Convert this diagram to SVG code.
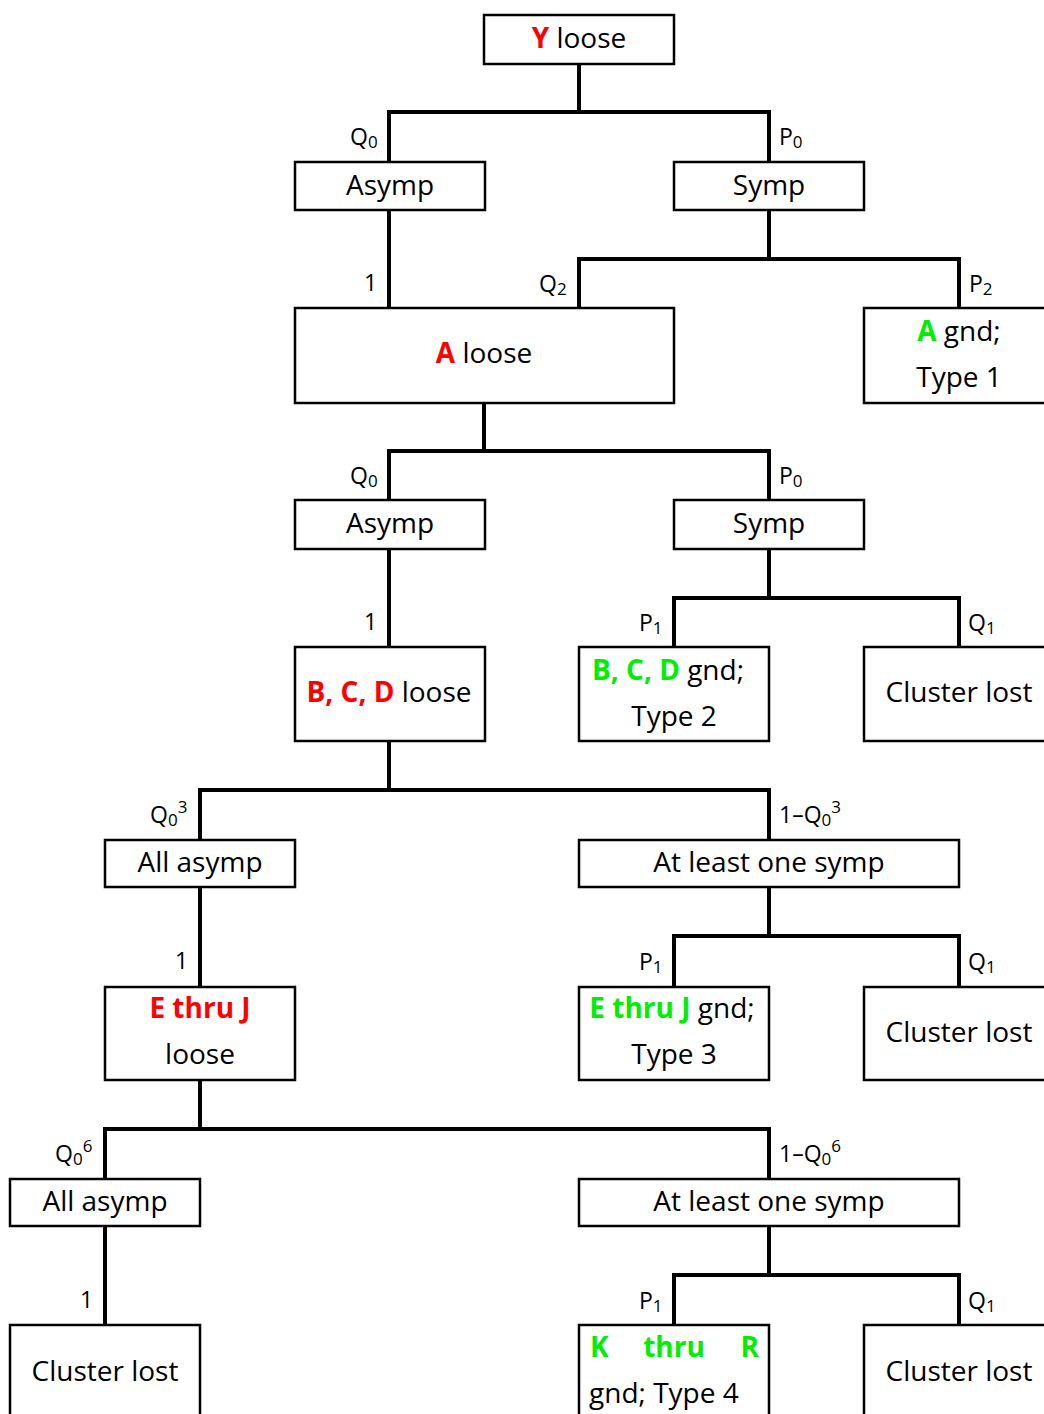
<svg xmlns="http://www.w3.org/2000/svg" width="1044" height="1414" viewBox="0 0 1044 1414">
<style>
.box{fill:#fff;stroke:#000;stroke-width:2.5}
.t{font-family:"Open Sans",Lato,"Liberation Sans",sans-serif;font-size:28px;fill:#000;text-anchor:middle}
.l{font-family:"Open Sans",Lato,"Liberation Sans",sans-serif;font-size:23px;fill:#000}
.r{fill:#ff0000;font-weight:bold}
.g{fill:#00ee00;font-weight:bold}
.c{fill:none;stroke:#000;stroke-width:4;stroke-linecap:square}
.s{font-size:17px}
</style>
<rect width="1044" height="1414" fill="#fff"/>
<g id="connectors">
<path class="c" d="M579,64 V112 M389,162 V112 H769 V162"/>
<path class="c" d="M389,210 V308"/>
<path class="c" d="M769,210 V259 M579,308 V259 H959 V308"/>
<path class="c" d="M484,403 V451 M389,500 V451 H769 V500"/>
<path class="c" d="M389,549 V647"/>
<path class="c" d="M769,549 V598 M674,647 V598 H959 V647"/>
<path class="c" d="M389,741 V790 M200,840 V790 H769 V840"/>
<path class="c" d="M200,887 V987"/>
<path class="c" d="M769,887 V936 M674,987 V936 H959 V987"/>
<path class="c" d="M200,1080 V1129 M105,1179 V1129 H769 V1179"/>
<path class="c" d="M105,1226 V1325"/>
<path class="c" d="M769,1226 V1275 M674,1325 V1275 H959 V1325"/>
</g>
<g id="labels">
<text class="l" x="350" y="145">Q<tspan class="s" dy="3">0</tspan></text>
<text class="l" x="779" y="145">P<tspan class="s" dy="3">0</tspan></text>
<text class="l" x="364" y="291">1</text>
<text class="l" x="539" y="292">Q<tspan class="s" dy="3">2</tspan></text>
<text class="l" x="969" y="292">P<tspan class="s" dy="3">2</tspan></text>
<text class="l" x="350" y="484">Q<tspan class="s" dy="3">0</tspan></text>
<text class="l" x="779" y="484">P<tspan class="s" dy="3">0</tspan></text>
<text class="l" x="364" y="630">1</text>
<text class="l" x="639" y="631">P<tspan class="s" dy="3">1</tspan></text>
<text class="l" x="968" y="631">Q<tspan class="s" dy="3">1</tspan></text>
<text class="l" x="150" y="823">Q<tspan class="s" dy="3">0</tspan><tspan class="s" dy="-13">3</tspan></text>
<text class="l" x="779" y="823">1–Q<tspan class="s" dy="3">0</tspan><tspan class="s" dy="-13">3</tspan></text>
<text class="l" x="175" y="969">1</text>
<text class="l" x="639" y="970">P<tspan class="s" dy="3">1</tspan></text>
<text class="l" x="968" y="970">Q<tspan class="s" dy="3">1</tspan></text>
<text class="l" x="55" y="1162">Q<tspan class="s" dy="3">0</tspan><tspan class="s" dy="-13">6</tspan></text>
<text class="l" x="779" y="1162">1–Q<tspan class="s" dy="3">0</tspan><tspan class="s" dy="-13">6</tspan></text>
<text class="l" x="80" y="1308">1</text>
<text class="l" x="639" y="1309">P<tspan class="s" dy="3">1</tspan></text>
<text class="l" x="968" y="1309">Q<tspan class="s" dy="3">1</tspan></text>
</g>
<g id="y-loose"><rect class="box" x="484" y="15" width="190" height="49"/><text class="t" x="579" y="48"><tspan class="r">Y</tspan> loose</text></g>
<g id="asymp-1"><rect class="box" x="295" y="162" width="190" height="48"/><text class="t" x="390" y="195">Asymp</text></g>
<g id="symp-1"><rect class="box" x="674" y="162" width="190" height="48"/><text class="t" x="769" y="195">Symp</text></g>
<g id="a-loose"><rect class="box" x="295" y="308" width="379" height="95"/><text class="t" x="484" y="363"><tspan class="r">A</tspan> loose</text></g>
<g id="a-gnd"><rect class="box" x="864" y="308" width="200" height="95"/><text class="t" x="959" y="341"><tspan class="g">A</tspan> gnd;</text><text class="t" x="959" y="387">Type 1</text></g>
<g id="asymp-2"><rect class="box" x="295" y="500" width="190" height="49"/><text class="t" x="390" y="533">Asymp</text></g>
<g id="symp-2"><rect class="box" x="674" y="500" width="190" height="49"/><text class="t" x="769" y="533">Symp</text></g>
<g id="bcd-loose"><rect class="box" x="295" y="647" width="190" height="94"/><text class="t" x="389" y="702"><tspan class="r">B, C, D</tspan> loose</text></g>
<g id="bcd-gnd"><rect class="box" x="579" y="647" width="190" height="94"/><text class="t" x="668" y="680"><tspan class="g">B, C, D</tspan> gnd;</text><text class="t" x="674" y="726">Type 2</text></g>
<g id="lost-1"><rect class="box" x="864" y="647" width="200" height="94"/><text class="t" x="959" y="702">Cluster lost</text></g>
<g id="all-asymp-1"><rect class="box" x="105" y="840" width="190" height="47"/><text class="t" x="200" y="872">All asymp</text></g>
<g id="one-symp-1"><rect class="box" x="579" y="840" width="380" height="47"/><text class="t" x="769" y="872">At least one symp</text></g>
<g id="ej-loose"><rect class="box" x="105" y="987" width="190" height="93"/><text class="t" x="200" y="1018"><tspan class="r">E thru J</tspan></text><text class="t" x="200" y="1064">loose</text></g>
<g id="ej-gnd"><rect class="box" x="579" y="987" width="190" height="93"/><text class="t" x="672" y="1018"><tspan class="g">E thru J</tspan> gnd;</text><text class="t" x="674" y="1064">Type 3</text></g>
<g id="lost-2"><rect class="box" x="864" y="987" width="200" height="93"/><text class="t" x="959" y="1042">Cluster lost</text></g>
<g id="all-asymp-2"><rect class="box" x="10" y="1179" width="190" height="47"/><text class="t" x="105" y="1211">All asymp</text></g>
<g id="one-symp-2"><rect class="box" x="579" y="1179" width="380" height="47"/><text class="t" x="769" y="1211">At least one symp</text></g>
<g id="lost-3"><rect class="box" x="10" y="1325" width="190" height="120"/><text class="t" x="105" y="1381">Cluster lost</text></g>
<g id="kr-gnd"><rect class="box" x="579" y="1325" width="190" height="120"/><text class="t" x="590" y="1357" style="text-anchor:start"><tspan class="g">K</tspan></text><text class="t" x="674" y="1357"><tspan class="g">thru</tspan></text><text class="t" x="759" y="1357" style="text-anchor:end"><tspan class="g">R</tspan></text><text class="t" x="589" y="1403" style="text-anchor:start">gnd; Type 4</text></g>
<g id="lost-4"><rect class="box" x="864" y="1325" width="200" height="120"/><text class="t" x="959" y="1381">Cluster lost</text></g>
</svg>
